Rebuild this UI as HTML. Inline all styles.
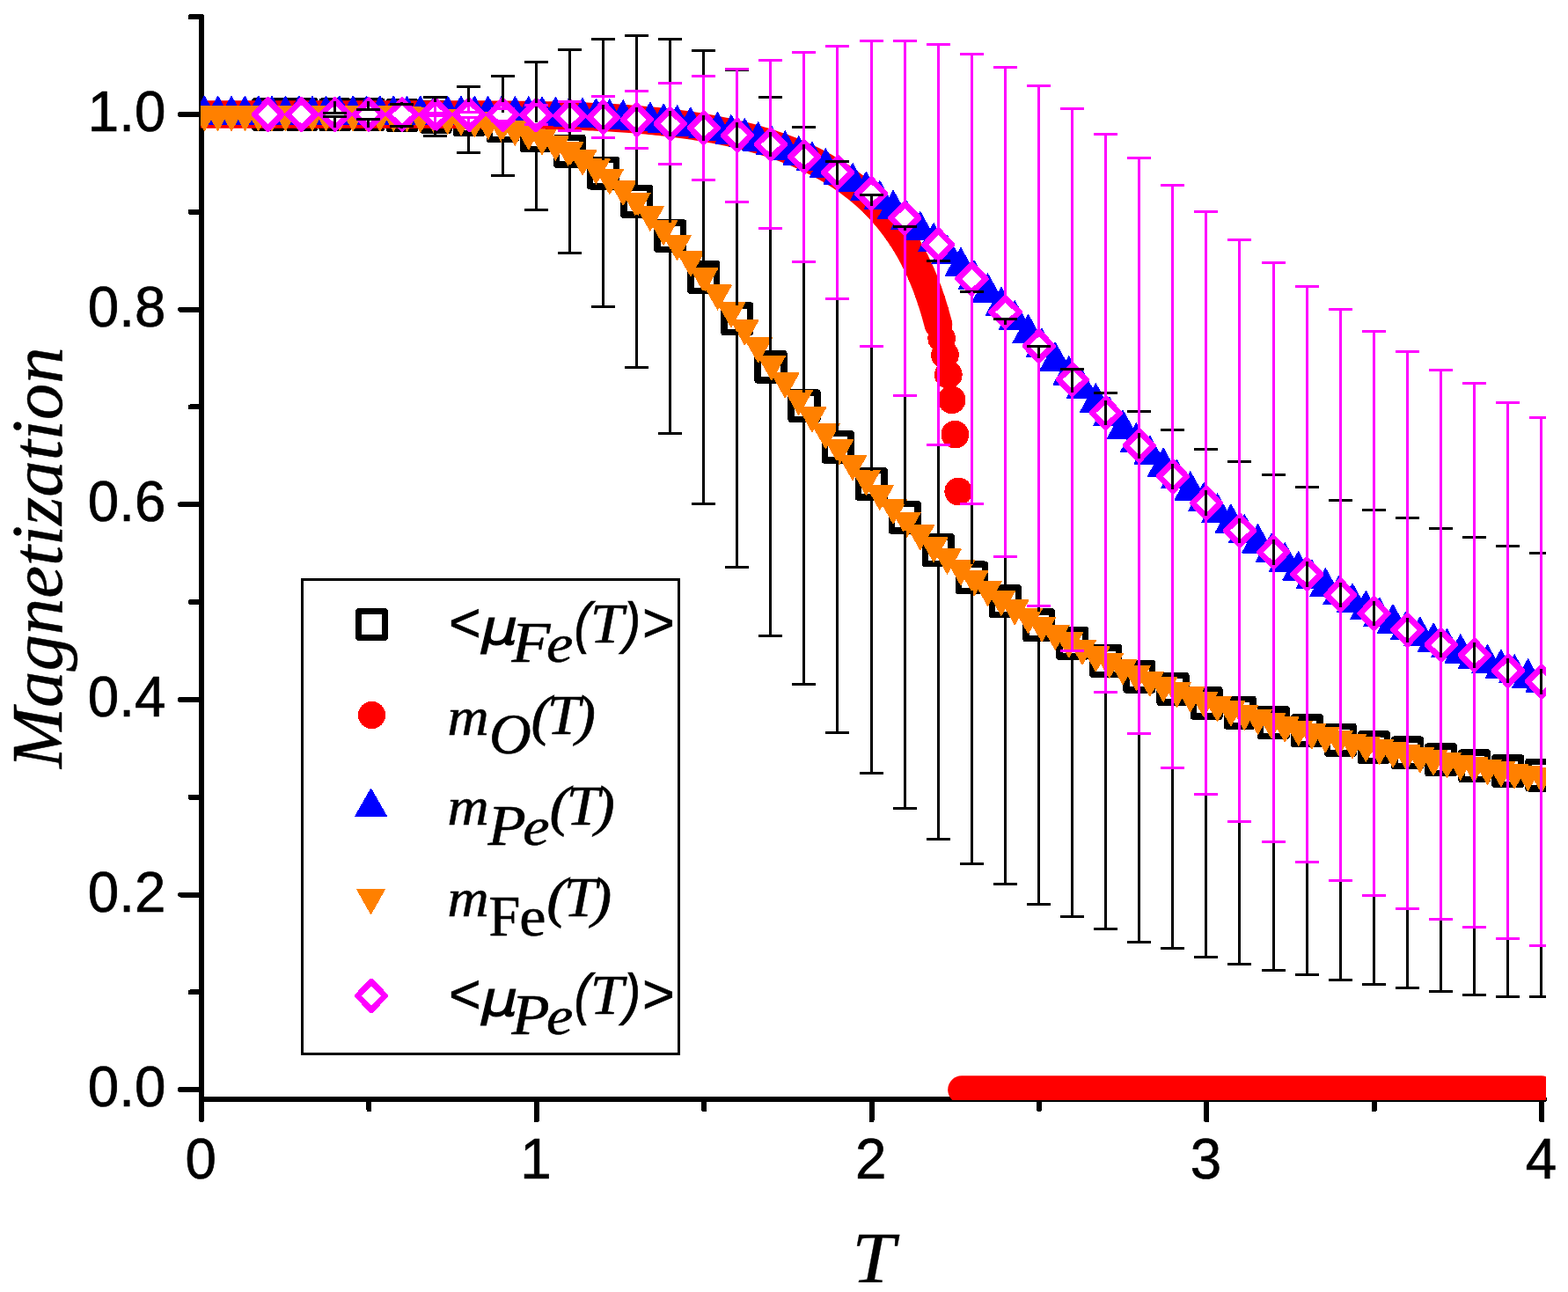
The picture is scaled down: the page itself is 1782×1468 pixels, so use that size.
<!DOCTYPE html>
<html lang="en"><head><meta charset="utf-8"><title>Magnetization vs T</title>
<style>html,body{margin:0;padding:0;background:#fff}body{width:1782px;height:1468px;overflow:hidden}svg{display:block}text{fill:#000}.tk{font-family:"Liberation Sans",Arial,sans-serif;font-size:64.6px}.ti{font-family:"Liberation Serif","Times New Roman",serif;font-style:italic;font-size:82px}.si{font-family:"Liberation Serif",serif;font-style:italic}.sr{font-family:"Liberation Serif",serif}.ss{font-family:"Liberation Sans",sans-serif}.sn{font-family:"Liberation Sans",sans-serif;font-style:italic}.dj{font-family:"DejaVu Sans","Liberation Sans",sans-serif;font-style:oblique}</style></head><body>
<svg width="1782" height="1468" viewBox="0 0 1782 1468" shape-rendering="crispEdges">
<rect width="1782" height="1468" fill="#fff"/>
<defs><clipPath id="cp"><rect x="228" y="0" width="1529" height="1250"/></clipPath></defs>
<g stroke="#000" stroke-width="6" stroke-linecap="round" fill="none">
<path d="M229 20V1272.5"/>
<path d="M229 1249H1755"/>
<path d="M205 1238.2H229M205 1016.56H229M205 794.92H229M205 573.28H229M205 351.64H229M205 130H229M216.5 1127.38H229M216.5 905.74H229M216.5 684.1H229M216.5 462.46H229M216.5 240.82H229M216.5 19.18H229M609.78 1249V1272.5M990.56 1249V1272.5M1371.34 1249V1272.5M1752.12 1249V1272.5M419.39 1249V1260.5M800.17 1249V1260.5M1180.95 1249V1260.5M1561.73 1249V1260.5"/>
</g>
<text class="tk" stroke="#000" stroke-width="0.7" transform="translate(188.3 1257.3) scale(0.985 1.012)" text-anchor="end">0.0</text>
<text class="tk" stroke="#000" stroke-width="0.7" transform="translate(188.3 1035.66) scale(0.985 1.012)" text-anchor="end">0.2</text>
<text class="tk" stroke="#000" stroke-width="0.7" transform="translate(188.3 814.02) scale(0.985 1.012)" text-anchor="end">0.4</text>
<text class="tk" stroke="#000" stroke-width="0.7" transform="translate(188.3 592.38) scale(0.985 1.012)" text-anchor="end">0.6</text>
<text class="tk" stroke="#000" stroke-width="0.7" transform="translate(188.3 370.74) scale(0.985 1.012)" text-anchor="end">0.8</text>
<text class="tk" stroke="#000" stroke-width="0.7" transform="translate(188.3 149.1) scale(0.985 1.012)" text-anchor="end">1.0</text>
<text class="tk" stroke="#000" stroke-width="0.7" transform="translate(228.2 1338.5) scale(0.985 1.012)" text-anchor="middle">0</text>
<text class="tk" stroke="#000" stroke-width="0.7" transform="translate(608.98 1338.5) scale(0.985 1.012)" text-anchor="middle">1</text>
<text class="tk" stroke="#000" stroke-width="0.7" transform="translate(989.76 1338.5) scale(0.985 1.012)" text-anchor="middle">2</text>
<text class="tk" stroke="#000" stroke-width="0.7" transform="translate(1370.54 1338.5) scale(0.985 1.012)" text-anchor="middle">3</text>
<text class="tk" stroke="#000" stroke-width="0.7" transform="translate(1751.32 1338.5) scale(0.985 1.012)" text-anchor="middle">4</text>
<text class="ti" stroke="#000" stroke-width="0.3" transform="matrix(1.071 0 0 1.008 968.26 1457)">T</text>
<text class="ti" stroke="#000" stroke-width="0.5" transform="translate(69.5 873.1) rotate(-90) scale(1.0109 1.012)">Magnetization</text>
<g clip-path="url(#cp)">
<path fill="none" stroke="#000" stroke-width="7.5" stroke-linejoin="round" d="M289.87 114.75h29.6v30.5h-29.6zM327.95 114.75h29.6v30.5h-29.6zM366.04 115.09h29.6v30.5h-29.6zM404.12 115.05h29.6v30.5h-29.6zM442.21 115.66h29.6v30.5h-29.6zM480.3 117.51h29.6v30.5h-29.6zM518.38 120.75h29.6v30.5h-29.6zM556.47 127.84h29.6v30.5h-29.6zM594.55 139.13h29.6v30.5h-29.6zM632.64 156.63h29.6v30.5h-29.6zM670.72 181.25h29.6v30.5h-29.6zM708.81 213.71h29.6v30.5h-29.6zM746.89 252.91h29.6v30.5h-29.6zM784.98 299.8h29.6v30.5h-29.6zM823.06 347.04h29.6v30.5h-29.6zM861.15 401.41h29.6v30.5h-29.6zM899.23 446h29.6v30.5h-29.6zM937.32 492.49h29.6v30.5h-29.6zM975.4 534.55h29.6v30.5h-29.6zM1013.49 572.6h29.6v30.5h-29.6zM1051.57 609.8h29.6v30.5h-29.6zM1089.65 641.24h29.6v30.5h-29.6zM1127.74 668.07h29.6v30.5h-29.6zM1165.83 694.94h29.6v30.5h-29.6zM1203.91 715.54h29.6v30.5h-29.6zM1242 735.85h29.6v30.5h-29.6zM1280.08 753.44h29.6v30.5h-29.6zM1318.17 767.53h29.6v30.5h-29.6zM1356.25 783.5h29.6v30.5h-29.6zM1394.34 794.39h29.6v30.5h-29.6zM1432.42 805.82h29.6v30.5h-29.6zM1470.51 815.05h29.6v30.5h-29.6zM1508.59 825.61h29.6v30.5h-29.6zM1546.68 833.84h29.6v30.5h-29.6zM1584.76 840.2h29.6v30.5h-29.6zM1622.85 848.07h29.6v30.5h-29.6zM1660.93 855.08h29.6v30.5h-29.6zM1699.02 860.94h29.6v30.5h-29.6zM1737.1 865.34h29.6v30.5h-29.6z"/>
<g fill="none" stroke="#f00" stroke-width="31.7" stroke-linecap="round" stroke-linejoin="round" shape-rendering="auto">
<path d="M232.31 130L236.12 130L239.93 130L243.73 130L247.54 130L251.35 130L255.16 130L258.97 130L262.78 130L266.58 130L270.39 130L274.2 130L278.01 130L281.82 130L285.63 130L289.44 130L293.24 130L297.05 130L300.86 130L304.67 130L308.48 130L312.29 130L316.1 130L319.9 130L323.71 130L327.52 130L331.33 130L335.14 130L338.95 130L342.75 130L346.56 130L350.37 130L354.18 130L357.99 130L361.8 130L365.61 130L369.41 130L373.22 130L377.03 130L380.84 130L384.65 130L388.46 130L392.27 130L396.07 130L399.88 130L403.69 130L407.5 130L411.31 130L415.12 130L418.93 130L422.73 130L426.54 130L430.35 130L434.16 130L437.97 130L441.78 130L445.58 130L449.39 130L453.2 130L457.01 130L460.82 130L464.63 130.01L468.44 130.01L472.24 130.01L476.05 130.01L479.86 130.01L483.67 130.01L487.48 130.02L491.29 130.02L495.1 130.02L498.9 130.03L502.71 130.03L506.52 130.04L510.33 130.05L514.14 130.05L517.95 130.06L521.75 130.07L525.56 130.08L529.37 130.09L533.18 130.1L536.99 130.12L540.8 130.13L544.61 130.15L548.41 130.17L552.22 130.19L556.03 130.21L559.84 130.23L563.65 130.26L567.46 130.29L571.27 130.32L575.07 130.35L578.88 130.39L582.69 130.43L586.5 130.47L590.31 130.52L594.12 130.57L597.92 130.62L601.73 130.68L605.54 130.74L609.35 130.8L613.16 130.87L616.97 130.95L620.78 131.02L624.58 131.11L628.39 131.19L632.2 131.29L636.01 131.39L639.82 131.49L643.63 131.6L647.44 131.72L651.24 131.85L655.05 131.98L658.86 132.11L662.67 132.26L666.48 132.41L670.29 132.57L674.09 132.74L677.9 132.92L681.71 133.1L685.52 133.3L689.33 133.5L693.14 133.71L696.95 133.93L700.75 134.17L704.56 134.41L708.37 134.66L712.18 134.93L715.99 135.21L719.8 135.49L723.61 135.79L727.41 136.11L731.22 136.43L735.03 136.77L738.84 137.12L742.65 137.49L746.46 137.87L750.26 138.27L754.07 138.68L757.88 139.1L761.69 139.55L765.5 140L769.31 140.48L773.12 140.97L776.92 141.48L780.73 142.01L784.54 142.56L788.35 143.13L792.16 143.72L795.97 144.33L799.78 144.96L803.58 145.61L807.39 146.29L811.2 146.99L815.01 147.71L818.82 148.46L822.63 149.23L826.43 150.03L830.24 150.85L834.05 151.7L837.86 152.58L841.67 153.49L845.48 154.43L849.29 155.4L853.09 156.41L856.9 157.44L860.71 158.51L864.52 159.62L868.33 160.76L872.14 161.94L875.95 163.16L879.75 164.42L883.56 165.72L887.37 167.06L891.18 168.45L894.99 169.88L898.8 171.37L902.6 172.9L906.41 174.48L910.22 176.12L914.03 177.81L917.84 179.56L921.65 181.37L925.46 183.25L929.26 185.19L933.07 187.19L936.88 189.27L940.69 191.43L944.5 193.66L948.31 195.97L952.12 198.37L955.92 200.86L959.73 203.45L963.54 206.13L967.35 208.93L971.16 211.83L974.97 214.85L978.77 218L982.58 221.28L986.39 224.7L990.2 228.28L994.01 232.01L997.82 235.92L1001.63 240.02L1005.43 244.32L1009.24 248.83L1013.05 253.59L1016.86 258.6L1020.67 263.9L1024.48 269.5L1028.29 275.45L1032.09 281.79L1035.9 288.55L1039.71 295.8L1043.52 303.59L1047.33 312.03L1051.14 321.19L1054.94 331.22L1058.75 342.29L1062.56 354.62L1066.37 368.53"/>
<path d="M1093.03 1238.2H1751.9"/>
</g>
<g fill="#f00">
<circle cx="994.01" cy="232.01" r="15.85"/>
<circle cx="997.82" cy="235.92" r="15.85"/>
<circle cx="1001.63" cy="240.02" r="15.85"/>
<circle cx="1005.43" cy="244.32" r="15.85"/>
<circle cx="1009.24" cy="248.83" r="15.85"/>
<circle cx="1013.05" cy="253.59" r="15.85"/>
<circle cx="1016.86" cy="258.6" r="15.85"/>
<circle cx="1020.67" cy="263.9" r="15.85"/>
<circle cx="1024.48" cy="269.5" r="15.85"/>
<circle cx="1028.29" cy="275.45" r="15.85"/>
<circle cx="1032.09" cy="281.79" r="15.85"/>
<circle cx="1035.9" cy="288.55" r="15.85"/>
<circle cx="1039.71" cy="295.8" r="15.85"/>
<circle cx="1043.52" cy="303.59" r="15.85"/>
<circle cx="1047.33" cy="312.03" r="15.85"/>
<circle cx="1051.14" cy="321.19" r="15.85"/>
<circle cx="1054.94" cy="331.22" r="15.85"/>
<circle cx="1058.75" cy="342.29" r="15.85"/>
<circle cx="1062.56" cy="354.62" r="15.85"/>
<circle cx="1066.37" cy="368.53" r="15.85"/>
<circle cx="1070.18" cy="384.49" r="15.85"/>
<circle cx="1073.99" cy="403.17" r="15.85"/>
<circle cx="1077.8" cy="425.75" r="15.85"/>
<circle cx="1081.6" cy="454.35" r="15.85"/>
<circle cx="1085.41" cy="493.65" r="15.85"/>
<circle cx="1089.22" cy="558.46" r="15.85"/>
</g>
<path fill="#00f" stroke="#00f" stroke-width="1.2" stroke-linejoin="round" d="M232.31 109.23L250 141.35L214.62 141.35zM247.66 109.23L265.35 141.35L229.97 141.35zM263.01 109.23L280.7 141.35L245.32 141.35zM278.36 109.23L296.05 141.35L260.67 141.35zM293.71 109.23L311.4 141.35L276.02 141.35zM309.06 109.23L326.75 141.35L291.37 141.35zM324.4 109.23L342.09 141.35L306.71 141.35zM339.75 109.23L357.44 141.35L322.06 141.35zM355.1 109.23L372.79 141.35L337.41 141.35zM370.45 109.23L388.14 141.35L352.76 141.35zM385.8 109.23L403.49 141.35L368.11 141.35zM401.15 109.23L418.84 141.35L383.46 141.35zM416.5 109.23L434.19 141.35L398.81 141.35zM431.85 109.23L449.54 141.35L414.16 141.35zM447.2 109.23L464.89 141.35L429.51 141.35zM462.55 109.23L480.24 141.35L444.86 141.35zM477.9 109.24L495.59 141.36L460.21 141.36zM493.25 109.25L510.94 141.37L475.56 141.37zM508.6 109.27L526.29 141.39L490.91 141.39zM523.95 109.31L541.64 141.43L506.26 141.43zM539.3 109.36L556.99 141.48L521.61 141.48zM554.65 109.43L572.34 141.55L536.96 141.55zM570 109.54L587.69 141.66L552.31 141.66zM585.34 109.69L603.03 141.81L567.65 141.81zM600.69 109.89L618.38 142.01L583 142.01zM616.04 110.16L633.73 142.28L598.35 142.28zM631.39 110.5L649.08 142.62L613.7 142.62zM646.74 110.94L664.43 143.06L629.05 143.06zM662.09 111.48L679.78 143.6L644.4 143.6zM677.44 112.14L695.13 144.26L659.75 144.26zM692.79 112.95L710.48 145.07L675.1 145.07zM708.14 113.92L725.83 146.04L690.45 146.04zM723.49 115.08L741.18 147.2L705.8 147.2zM738.84 116.45L756.53 148.57L721.15 148.57zM754.19 118.06L771.88 150.18L736.5 150.18zM769.54 119.94L787.23 152.06L751.85 152.06zM784.89 122.12L802.58 154.24L767.2 154.24zM800.24 124.63L817.93 156.75L782.55 156.75zM815.59 127.52L833.28 159.64L797.9 159.64zM830.94 130.82L848.63 162.94L813.25 162.94zM846.28 134.57L863.97 166.69L828.59 166.69zM861.63 138.82L879.32 170.94L843.94 170.94zM876.98 143.61L894.67 175.73L859.29 175.73zM892.33 148.97L910.02 181.09L874.64 181.09zM907.68 154.96L925.37 187.08L889.99 187.08zM923.03 161.6L940.72 193.72L905.34 193.72zM938.38 168.93L956.07 201.05L920.69 201.05zM953.73 176.98L971.42 209.1L936.04 209.1zM969.08 185.76L986.77 217.88L951.39 217.88zM984.43 195.28L1002.12 227.4L966.74 227.4zM999.78 205.55L1017.47 237.67L982.09 237.67zM1015.13 216.55L1032.82 248.67L997.44 248.67zM1030.48 228.27L1048.17 260.39L1012.79 260.39zM1045.83 240.67L1063.52 272.79L1028.14 272.79zM1061.18 253.7L1078.87 285.82L1043.49 285.82zM1076.53 267.32L1094.22 299.44L1058.84 299.44zM1091.88 281.47L1109.57 313.59L1074.19 313.59zM1107.22 296.08L1124.91 328.2L1089.53 328.2zM1122.57 311.08L1140.26 343.2L1104.88 343.2zM1137.92 326.39L1155.61 358.51L1120.23 358.51zM1153.27 341.93L1170.96 374.05L1135.58 374.05zM1168.62 357.63L1186.31 389.75L1150.93 389.75zM1183.97 373.42L1201.66 405.54L1166.28 405.54zM1199.32 389.22L1217.01 421.34L1181.63 421.34zM1214.67 404.96L1232.36 437.08L1196.98 437.08zM1230.02 420.59L1247.71 452.71L1212.33 452.71zM1245.37 436.04L1263.06 468.16L1227.68 468.16zM1260.72 451.26L1278.41 483.38L1243.03 483.38zM1276.07 466.22L1293.76 498.34L1258.38 498.34zM1291.42 480.88L1309.11 513L1273.73 513zM1306.77 495.2L1324.46 527.32L1289.08 527.32zM1322.12 509.16L1339.81 541.28L1304.43 541.28zM1337.47 522.74L1355.16 554.86L1319.78 554.86zM1352.82 535.93L1370.51 568.05L1335.13 568.05zM1368.16 548.72L1385.85 580.84L1350.47 580.84zM1383.51 561.1L1401.2 593.22L1365.82 593.22zM1398.86 573.07L1416.55 605.19L1381.17 605.19zM1414.21 584.63L1431.9 616.75L1396.52 616.75zM1429.56 595.78L1447.25 627.9L1411.87 627.9zM1444.91 606.54L1462.6 638.66L1427.22 638.66zM1460.26 616.9L1477.95 649.02L1442.57 649.02zM1475.61 626.88L1493.3 659L1457.92 659zM1490.96 636.49L1508.65 668.61L1473.27 668.61zM1506.31 645.73L1524 677.85L1488.62 677.85zM1521.66 654.62L1539.35 686.74L1503.97 686.74zM1537.01 663.18L1554.7 695.3L1519.32 695.3zM1552.36 671.41L1570.05 703.53L1534.67 703.53zM1567.71 679.32L1585.4 711.44L1550.02 711.44zM1583.06 686.93L1600.75 719.05L1565.37 719.05zM1598.41 694.25L1616.1 726.37L1580.72 726.37zM1613.76 701.3L1631.45 733.42L1596.07 733.42zM1629.1 708.08L1646.79 740.2L1611.41 740.2zM1644.45 714.6L1662.14 746.72L1626.76 746.72zM1659.8 720.88L1677.49 753L1642.11 753zM1675.15 726.92L1692.84 759.04L1657.46 759.04zM1690.5 732.75L1708.19 764.87L1672.81 764.87zM1705.85 738.36L1723.54 770.48L1688.16 770.48zM1721.2 743.76L1738.89 775.88L1703.51 775.88zM1736.55 748.98L1754.24 781.1L1718.86 781.1zM1751.9 754L1769.59 786.12L1734.21 786.12z"/>
<path fill="#ff8000" stroke="#ff8000" stroke-width="1.2" stroke-linejoin="round" d="M232.31 148.42L247.95 120.6L216.67 120.6zM247.66 148.42L263.3 120.6L232.02 120.6zM263.01 148.42L278.65 120.6L247.37 120.6zM278.36 148.42L294 120.6L262.72 120.6zM293.71 148.42L309.35 120.6L278.07 120.6zM309.06 148.42L324.7 120.6L293.42 120.6zM324.4 148.42L340.04 120.6L308.76 120.6zM339.75 148.42L355.39 120.6L324.11 120.6zM355.1 148.42L370.74 120.6L339.46 120.6zM370.45 148.43L386.09 120.61L354.81 120.61zM385.8 148.46L401.44 120.64L370.16 120.64zM401.15 148.51L416.79 120.69L385.51 120.69zM416.5 148.61L432.14 120.79L400.86 120.79zM431.85 148.78L447.49 120.96L416.21 120.96zM447.2 149.05L462.84 121.23L431.56 121.23zM462.55 149.47L478.19 121.65L446.91 121.65zM477.9 150.07L493.54 122.25L462.26 122.25zM493.25 150.92L508.89 123.1L477.61 123.1zM508.6 152.07L524.24 124.25L492.96 124.25zM523.95 153.59L539.59 125.77L508.31 125.77zM539.3 155.56L554.94 127.74L523.66 127.74zM554.65 158.07L570.29 130.25L539.01 130.25zM570 161.21L585.64 133.39L554.36 133.39zM585.34 165.08L600.98 137.26L569.7 137.26zM600.69 169.77L616.33 141.95L585.05 141.95zM616.04 175.4L631.68 147.58L600.4 147.58zM631.39 182.04L647.03 154.22L615.75 154.22zM646.74 189.8L662.38 161.98L631.1 161.98zM662.09 198.73L677.73 170.91L646.45 170.91zM677.44 208.91L693.08 181.09L661.8 181.09zM692.79 220.34L708.43 192.52L677.15 192.52zM708.14 233.04L723.78 205.22L692.5 205.22zM723.49 246.99L739.13 219.17L707.85 219.17zM738.84 262.12L754.48 234.3L723.2 234.3zM754.19 278.35L769.83 250.53L738.55 250.53zM769.54 295.59L785.18 267.77L753.9 267.77zM784.89 313.68L800.53 285.86L769.25 285.86zM800.24 332.51L815.88 304.69L784.6 304.69zM815.59 351.89L831.23 324.07L799.95 324.07zM830.94 371.69L846.58 343.87L815.3 343.87zM846.28 391.73L861.92 363.91L830.64 363.91zM861.63 411.87L877.27 384.05L845.99 384.05zM876.98 431.97L892.62 404.15L861.34 404.15zM892.33 451.9L907.97 424.08L876.69 424.08zM907.68 471.55L923.32 443.73L892.04 443.73zM923.03 490.81L938.67 462.99L907.39 462.99zM938.38 509.61L954.02 481.79L922.74 481.79zM953.73 527.89L969.37 500.07L938.09 500.07zM969.08 545.6L984.72 517.78L953.44 517.78zM984.43 562.71L1000.07 534.89L968.79 534.89zM999.78 579.18L1015.42 551.36L984.14 551.36zM1015.13 595L1030.77 567.18L999.49 567.18zM1030.48 610.18L1046.12 582.36L1014.84 582.36zM1045.83 624.71L1061.47 596.89L1030.19 596.89zM1061.18 638.61L1076.82 610.79L1045.54 610.79zM1076.53 651.89L1092.17 624.07L1060.89 624.07zM1091.88 664.56L1107.52 636.74L1076.24 636.74zM1107.22 676.65L1122.86 648.83L1091.58 648.83zM1122.57 688.17L1138.21 660.35L1106.93 660.35zM1137.92 699.15L1153.56 671.33L1122.28 671.33zM1153.27 709.62L1168.91 681.8L1137.63 681.8zM1168.62 719.59L1184.26 691.77L1152.98 691.77zM1183.97 729.1L1199.61 701.28L1168.33 701.28zM1199.32 738.16L1214.96 710.34L1183.68 710.34zM1214.67 746.8L1230.31 718.98L1199.03 718.98zM1230.02 755.03L1245.66 727.21L1214.38 727.21zM1245.37 762.89L1261.01 735.07L1229.73 735.07zM1260.72 770.39L1276.36 742.57L1245.08 742.57zM1276.07 777.55L1291.71 749.73L1260.43 749.73zM1291.42 784.39L1307.06 756.57L1275.78 756.57zM1306.77 790.93L1322.41 763.11L1291.13 763.11zM1322.12 797.18L1337.76 769.36L1306.48 769.36zM1337.47 803.16L1353.11 775.34L1321.83 775.34zM1352.82 808.88L1368.46 781.06L1337.18 781.06zM1368.16 814.36L1383.8 786.54L1352.52 786.54zM1383.51 819.61L1399.15 791.79L1367.87 791.79zM1398.86 824.65L1414.5 796.83L1383.22 796.83zM1414.21 829.48L1429.85 801.66L1398.57 801.66zM1429.56 834.11L1445.2 806.29L1413.92 806.29zM1444.91 838.56L1460.55 810.74L1429.27 810.74zM1460.26 842.84L1475.9 815.02L1444.62 815.02zM1475.61 846.96L1491.25 819.14L1459.97 819.14zM1490.96 850.91L1506.6 823.09L1475.32 823.09zM1506.31 854.72L1521.95 826.9L1490.67 826.9zM1521.66 858.39L1537.3 830.57L1506.02 830.57zM1537.01 861.92L1552.65 834.1L1521.37 834.1zM1552.36 865.33L1568 837.51L1536.72 837.51zM1567.71 868.62L1583.35 840.8L1552.07 840.8zM1583.06 871.79L1598.7 843.97L1567.42 843.97zM1598.41 874.85L1614.05 847.03L1582.77 847.03zM1613.76 877.81L1629.4 849.99L1598.12 849.99zM1629.1 880.66L1644.74 852.84L1613.46 852.84zM1644.45 883.43L1660.09 855.61L1628.81 855.61zM1659.8 886.1L1675.44 858.28L1644.16 858.28zM1675.15 888.69L1690.79 860.87L1659.51 860.87zM1690.5 891.19L1706.14 863.37L1674.86 863.37zM1705.85 893.62L1721.49 865.8L1690.21 865.8zM1721.2 895.97L1736.84 868.15L1705.56 868.15zM1736.55 898.24L1752.19 870.42L1720.91 870.42zM1751.9 900.45L1767.54 872.63L1736.26 872.63z"/>
<path fill="#f0f" d="M303.47 110.35L305.87 110.35L323.77 128.8L323.77 131.2L305.87 149.65L303.47 149.65L285.57 131.2L285.57 128.8zM341.56 110.35L343.95 110.35L361.86 128.8L361.86 131.2L343.95 149.65L341.56 149.65L323.65 131.2L323.65 128.8zM379.64 110.35L382.04 110.35L399.94 128.8L399.94 131.2L382.04 149.65L379.64 149.65L361.74 131.2L361.74 128.8zM417.73 110.35L420.12 110.35L438.03 128.8L438.03 131.2L420.12 149.65L417.73 149.65L399.82 131.2L399.82 128.8zM455.81 110.35L458.21 110.35L476.11 128.8L476.11 131.2L458.21 149.65L455.81 149.65L437.91 131.2L437.91 128.8zM493.9 110.36L496.3 110.36L514.2 128.81L514.2 131.21L496.3 149.66L493.9 149.66L476 131.21L476 128.81zM531.98 110.4L534.38 110.4L552.28 128.85L552.28 131.25L534.38 149.7L531.98 149.7L514.08 131.25L514.08 128.85zM570.07 110.69L572.47 110.69L590.37 129.14L590.37 131.54L572.47 149.99L570.07 149.99L552.17 131.54L552.17 129.14zM608.15 111.15L610.55 111.15L628.45 129.6L628.45 132L610.55 150.45L608.15 150.45L590.25 132L590.25 129.6zM646.24 112.04L648.64 112.04L666.54 130.49L666.54 132.89L648.64 151.34L646.24 151.34L628.34 132.89L628.34 130.49zM684.32 113.56L686.72 113.56L704.62 132.01L704.62 134.41L686.72 152.86L684.32 152.86L666.42 134.41L666.42 132.01zM722.4 116.18L724.81 116.18L742.71 134.63L742.71 137.03L724.81 155.48L722.4 155.48L704.5 137.03L704.5 134.63zM760.49 120.97L762.89 120.97L780.79 139.42L780.79 141.82L762.89 160.27L760.49 160.27L742.59 141.82L742.59 139.42zM798.58 125.69L800.98 125.69L818.88 144.14L818.88 146.54L800.98 164.99L798.58 164.99L780.68 146.54L780.68 144.14zM836.66 134.01L839.06 134.01L856.96 152.46L856.96 154.86L839.06 173.31L836.66 173.31L818.76 154.86L818.76 152.46zM874.75 144.44L877.15 144.44L895.05 162.89L895.05 165.29L877.15 183.74L874.75 183.74L856.85 165.29L856.85 162.89zM912.83 158.5L915.23 158.5L933.13 176.95L933.13 179.35L915.23 197.8L912.83 197.8L894.93 179.35L894.93 176.95zM950.91 176.15L953.32 176.15L971.22 194.6L971.22 197L953.32 215.45L950.91 215.45L933.01 197L933.01 194.6zM989 200.29L991.4 200.29L1009.3 218.74L1009.3 221.14L991.4 239.59L989 239.59L971.1 221.14L971.1 218.74zM1027.09 227.96L1029.49 227.96L1047.38 246.41L1047.38 248.81L1029.49 267.26L1027.09 267.26L1009.19 248.81L1009.19 246.41zM1065.17 258.42L1067.57 258.42L1085.47 276.87L1085.47 279.27L1067.57 297.72L1065.17 297.72L1047.27 279.27L1047.27 276.87zM1103.25 297.11L1105.65 297.11L1123.55 315.56L1123.55 317.96L1105.65 336.41L1103.25 336.41L1085.36 317.96L1085.36 315.56zM1141.34 334.86L1143.74 334.86L1161.64 353.31L1161.64 355.71L1143.74 374.16L1141.34 374.16L1123.44 355.71L1123.44 353.31zM1179.42 373.51L1181.83 373.51L1199.72 391.96L1199.72 394.36L1181.83 412.81L1179.42 412.81L1161.53 394.36L1161.53 391.96zM1217.51 411.68L1219.91 411.68L1237.81 430.13L1237.81 432.53L1219.91 450.98L1217.51 450.98L1199.61 432.53L1199.61 430.13zM1255.6 449.64L1258 449.64L1275.89 468.09L1275.89 470.49L1258 488.94L1255.6 488.94L1237.7 470.49L1237.7 468.09zM1293.68 486.77L1296.08 486.77L1313.98 505.22L1313.98 507.62L1296.08 526.07L1293.68 526.07L1275.78 507.62L1275.78 505.22zM1331.77 521.71L1334.17 521.71L1352.07 540.16L1352.07 542.56L1334.17 561.01L1331.77 561.01L1313.87 542.56L1313.87 540.16zM1369.85 551.95L1372.25 551.95L1390.15 570.4L1390.15 572.8L1372.25 591.25L1369.85 591.25L1351.95 572.8L1351.95 570.4zM1407.93 583.27L1410.34 583.27L1428.23 601.72L1428.23 604.12L1410.34 622.57L1407.93 622.57L1390.04 604.12L1390.04 601.72zM1446.02 607.73L1448.42 607.73L1466.32 626.18L1466.32 628.58L1448.42 647.03L1446.02 647.03L1428.12 628.58L1428.12 626.18zM1484.11 632.81L1486.51 632.81L1504.4 651.26L1504.4 653.66L1486.51 672.11L1484.11 672.11L1466.21 653.66L1466.21 651.26zM1522.19 656.41L1524.59 656.41L1542.49 674.86L1542.49 677.26L1524.59 695.71L1522.19 695.71L1504.29 677.26L1504.29 674.86zM1560.28 677.38L1562.68 677.38L1580.58 695.83L1580.58 698.23L1562.68 716.68L1560.28 716.68L1542.38 698.23L1542.38 695.83zM1598.36 696.11L1600.76 696.11L1618.66 714.56L1618.66 716.96L1600.76 735.41L1598.36 735.41L1580.46 716.96L1580.46 714.56zM1636.45 713.03L1638.85 713.03L1656.75 731.48L1656.75 733.88L1638.85 752.33L1636.45 752.33L1618.55 733.88L1618.55 731.48zM1674.53 724.75L1676.93 724.75L1694.83 743.2L1694.83 745.6L1676.93 764.05L1674.53 764.05L1656.63 745.6L1656.63 743.2zM1712.62 742.45L1715.02 742.45L1732.91 760.9L1732.91 763.3L1715.02 781.75L1712.62 781.75L1694.72 763.3L1694.72 760.9zM1750.7 754.79L1753.1 754.79L1771 773.24L1771 775.64L1753.1 794.09L1750.7 794.09L1732.8 775.64L1732.8 773.24z"/>
<path fill="#fff" d="M304.67 119.3L315.77 130L304.67 140.7L293.57 130zM342.75 119.3L353.86 130L342.75 140.7L331.65 130zM380.84 119.3L391.94 130L380.84 140.7L369.74 130zM418.93 119.3L430.03 130L418.93 140.7L407.82 130zM457.01 119.3L468.11 130L457.01 140.7L445.91 130zM495.1 119.31L506.2 130.01L495.1 140.71L484 130.01zM533.18 119.35L544.28 130.05L533.18 140.75L522.08 130.05zM571.27 119.64L582.37 130.34L571.27 141.04L560.17 130.34zM609.35 120.1L620.45 130.8L609.35 141.5L598.25 130.8zM647.44 120.99L658.54 131.69L647.44 142.39L636.34 131.69zM685.52 122.51L696.62 133.21L685.52 143.91L674.42 133.21zM723.61 125.13L734.71 135.83L723.61 146.53L712.5 135.83zM761.69 129.92L772.79 140.62L761.69 151.32L750.59 140.62zM799.78 134.64L810.88 145.34L799.78 156.04L788.68 145.34zM837.86 142.96L848.96 153.66L837.86 164.36L826.76 153.66zM875.95 153.39L887.05 164.09L875.95 174.79L864.85 164.09zM914.03 167.45L925.13 178.15L914.03 188.85L902.93 178.15zM952.12 185.1L963.22 195.8L952.12 206.5L941.01 195.8zM990.2 209.24L1001.3 219.94L990.2 230.64L979.1 219.94zM1028.29 236.91L1039.38 247.61L1028.29 258.31L1017.19 247.61zM1066.37 267.37L1077.47 278.07L1066.37 288.77L1055.27 278.07zM1104.45 306.06L1115.55 316.76L1104.45 327.46L1093.36 316.76zM1142.54 343.81L1153.64 354.51L1142.54 365.21L1131.44 354.51zM1180.62 382.46L1191.72 393.16L1180.62 403.86L1169.53 393.16zM1218.71 420.63L1229.81 431.33L1218.71 442.03L1207.61 431.33zM1256.8 458.59L1267.89 469.29L1256.8 479.99L1245.7 469.29zM1294.88 495.72L1305.98 506.42L1294.88 517.12L1283.78 506.42zM1332.97 530.66L1344.07 541.36L1332.97 552.06L1321.87 541.36zM1371.05 560.9L1382.15 571.6L1371.05 582.3L1359.95 571.6zM1409.13 592.22L1420.23 602.92L1409.13 613.62L1398.04 602.92zM1447.22 616.68L1458.32 627.38L1447.22 638.08L1436.12 627.38zM1485.31 641.76L1496.4 652.46L1485.31 663.16L1474.21 652.46zM1523.39 665.36L1534.49 676.06L1523.39 686.76L1512.29 676.06zM1561.48 686.33L1572.58 697.03L1561.48 707.73L1550.38 697.03zM1599.56 705.06L1610.66 715.76L1599.56 726.46L1588.46 715.76zM1637.65 721.98L1648.75 732.68L1637.65 743.38L1626.55 732.68zM1675.73 733.7L1686.83 744.4L1675.73 755.1L1664.63 744.4zM1713.82 751.4L1724.91 762.1L1713.82 772.8L1702.72 762.1zM1751.9 763.74L1763 774.44L1751.9 785.14L1740.8 774.44z"/>
<path fill="none" stroke="#000" stroke-width="3" d="M380.64 115.34V128.4M380.64 145.34V132.28M367.14 128.4h27M367.14 132.28h27M418.73 115.3V124.98M418.73 145.3V135.63M405.23 124.98h27M405.23 135.63h27M456.81 115.91V118.15M456.81 145.91V143.68M443.31 118.15h27M443.31 143.68h27M494.9 117.76V110.82M494.9 147.76V154.7M481.4 110.82h27M481.4 154.7h27M532.98 121V98.33M532.98 151V173.67M519.48 98.33h27M519.48 173.67h27M571.07 128.09V86.24M571.07 158.09V199.95M557.57 86.24h27M557.57 199.95h27M609.15 139.38V70.76M609.15 169.38V238M595.65 70.76h27M595.65 238h27M647.24 156.88V56.58M647.24 186.88V287.17M633.74 56.58h27M633.74 287.17h27M685.32 181.5V44.46M685.32 211.5V348.54M671.82 44.46h27M671.82 348.54h27M723.4 213.96V40.82M723.4 243.96V417.11M709.9 40.82h27M709.9 417.11h27M761.49 253.16V44.05M761.49 283.16V492.27M747.99 44.05h27M747.99 492.27h27M799.58 300.05V57.6M799.58 330.05V572.5M786.08 57.6h27M786.08 572.5h27M837.66 347.29V79.79M837.66 377.29V644.8M824.16 79.79h27M824.16 644.8h27M875.75 401.66V110.81M875.75 431.66V722.5M862.25 110.81h27M862.25 722.5h27M913.83 446.25V144.8M913.83 476.25V777.7M900.33 144.8h27M900.33 777.7h27M951.91 492.74V183.35M951.91 522.74V832.13M938.41 183.35h27M938.41 832.13h27M990 534.8V221.38M990 564.8V878.22M976.5 221.38h27M976.5 878.22h27M1028.09 572.85V257.3M1028.09 602.85V918.4M1014.59 257.3h27M1014.59 918.4h27M1066.17 610.05V296.53M1066.17 640.05V953.57M1052.67 296.53h27M1052.67 953.57h27M1104.25 641.49V331.86M1104.25 671.49V981.13M1090.75 331.86h27M1090.75 981.13h27M1142.34 668.32V362.62M1142.34 698.32V1004.01M1128.84 362.62h27M1128.84 1004.01h27M1180.42 695.19V393.28M1180.42 725.19V1027.1M1166.92 393.28h27M1166.92 1027.1h27M1218.51 715.79V419.81M1218.51 745.79V1041.77M1205.01 419.81h27M1205.01 1041.77h27M1256.6 736.1V446.6M1256.6 766.1V1055.61M1243.1 446.6h27M1243.1 1055.61h27M1294.68 753.69V467.17M1294.68 783.69V1070.2M1281.18 467.17h27M1281.18 1070.2h27M1332.77 767.78V488.18M1332.77 797.78V1077.38M1319.27 488.18h27M1319.27 1077.38h27M1370.85 783.75V510.4M1370.85 813.75V1087.1M1357.35 510.4h27M1357.35 1087.1h27M1408.93 794.64V524.05M1408.93 824.64V1095.23M1395.43 524.05h27M1395.43 1095.23h27M1447.02 806.07V539.93M1447.02 836.07V1102.22M1433.52 539.93h27M1433.52 1102.22h27M1485.11 815.3V553.31M1485.11 845.3V1107.29M1471.61 553.31h27M1471.61 1107.29h27M1523.19 825.86V568.26M1523.19 855.86V1113.46M1509.69 568.26h27M1509.69 1113.46h27M1561.28 834.09V579.44M1561.28 864.09V1118.74M1547.78 579.44h27M1547.78 1118.74h27M1599.36 840.45V588M1599.36 870.45V1122.91M1585.86 588h27M1585.86 1122.91h27M1637.45 848.32V600.53M1637.45 878.32V1126.11M1623.95 600.53h27M1623.95 1126.11h27M1675.53 855.33V610.58M1675.53 885.33V1130.08M1662.03 610.58h27M1662.03 1130.08h27M1713.62 861.19V620.24M1713.62 891.19V1132.14M1700.12 620.24h27M1700.12 1132.14h27M1751.7 865.59V628.39M1751.7 895.59V1132.8M1738.2 628.39h27M1738.2 1132.8h27"/>
<path fill="none" stroke="#f0f" stroke-width="3" d="M494.9 115.81V128.89M494.9 144.21V131.14M481.4 128.89h27M481.4 131.14h27M532.98 115.85V127.08M532.98 144.25V133.02M519.48 127.08h27M519.48 133.02h27M571.07 116.14V123.59M571.07 144.54V137.08M557.57 123.59h27M557.57 137.08h27M609.15 116.6V119.78M609.15 145V141.83M595.65 119.78h27M595.65 141.83h27M647.24 117.49V115.09M647.24 145.89V148.29M633.74 115.09h27M633.74 148.29h27M685.32 119.01V109.87M685.32 147.41V156.55M671.82 109.87h27M671.82 156.55h27M723.4 121.63V103.32M723.4 150.03V168.35M709.9 103.32h27M709.9 168.35h27M761.49 126.42V94.85M761.49 154.82V186.4M747.99 94.85h27M747.99 186.4h27M799.58 131.14V86.23M799.58 159.54V204.45M786.08 86.23h27M786.08 204.45h27M837.66 139.46V78.25M837.66 167.86V229.08M824.16 78.25h27M824.16 229.08h27M875.75 149.89V68.7M875.75 178.29V259.49M862.25 68.7h27M862.25 259.49h27M913.83 163.95V59.19M913.83 192.35V297.1M900.33 59.19h27M900.33 297.1h27M951.91 181.6V52.09M951.91 210V339.5M938.41 52.09h27M938.41 339.5h27M990 205.74V46.4M990 234.14V393.48M976.5 46.4h27M976.5 393.48h27M1028.09 233.41V46.14M1028.09 261.81V449.09M1014.59 46.14h27M1014.59 449.09h27M1066.17 263.87V50.95M1066.17 292.27V505.2M1052.67 50.95h27M1052.67 505.2h27M1104.25 302.56V61.02M1104.25 330.96V572.5M1090.75 61.02h27M1090.75 572.5h27M1142.34 340.31V76.93M1142.34 368.71V632.1M1128.84 76.93h27M1128.84 632.1h27M1180.42 378.96V97.83M1180.42 407.36V688.5M1166.92 97.83h27M1166.92 688.5h27M1218.51 417.13V123.15M1218.51 445.53V739.5M1205.01 123.15h27M1205.01 739.5h27M1256.6 455.09V152.4M1256.6 483.49V786.18M1243.1 152.4h27M1243.1 786.18h27M1294.68 492.22V179.33M1294.68 520.62V833.5M1281.18 179.33h27M1281.18 833.5h27M1332.77 527.16V210.53M1332.77 555.56V872.2M1319.27 210.53h27M1319.27 872.2h27M1370.85 557.4V240.47M1370.85 585.8V902.73M1357.35 240.47h27M1357.35 902.73h27M1408.93 588.72V272.4M1408.93 617.12V933.43M1395.43 272.4h27M1395.43 933.43h27M1447.02 613.18V298.67M1447.02 641.58V956.1M1433.52 298.67h27M1433.52 956.1h27M1485.11 638.26V325.62M1485.11 666.66V979.3M1471.61 325.62h27M1471.61 979.3h27M1523.19 661.86V351.56M1523.19 690.26V1000.56M1509.69 351.56h27M1509.69 1000.56h27M1561.28 682.83V376.21M1561.28 711.23V1017.85M1547.78 376.21h27M1547.78 1017.85h27M1599.36 701.56V399.13M1599.36 729.96V1032.39M1585.86 399.13h27M1585.86 1032.39h27M1637.45 718.48V420.57M1637.45 746.88V1044.78M1623.95 420.57h27M1623.95 1044.78h27M1675.53 730.2V435.4M1675.53 758.6V1053.4M1662.03 435.4h27M1662.03 1053.4h27M1713.62 747.9V457.85M1713.62 776.3V1066.36M1700.12 457.85h27M1700.12 1066.36h27M1751.7 760.24V474.23M1751.7 788.64V1074.65M1738.2 474.23h27M1738.2 1074.65h27"/>
</g>
<rect x="343.6" y="658.5" width="428.1" height="538.5" fill="none" stroke="#000" stroke-width="3"/>
<rect x="407.7" y="694.7" width="29.6" height="29.6" fill="none" stroke="#000" stroke-width="7.5" stroke-linejoin="round"/>
<circle cx="422.5" cy="812.5" r="15.6" fill="#f00"/>
<path fill="#00f" stroke="#00f" stroke-width="1.2" stroke-linejoin="round" d="M421.55 896.28L439.24 927.2L403.86 927.2z"/>
<path fill="#ff8000" stroke="#ff8000" stroke-width="1.2" stroke-linejoin="round" d="M421.5 1038.52L437.14 1010.7L405.86 1010.7z"/>
<path fill="#f0f" d="M420.8 1111.8L423.2 1111.8L441.1 1130.25L441.1 1132.65L423.2 1151.1L420.8 1151.1L402.9 1132.65L402.9 1130.25z"/><path fill="#fff" d="M422 1120.75L433.1 1131.45L422 1142.15L410.9 1131.45z"/>
<g shape-rendering="auto">
<text><tspan class="ss" font-size="62.62" x="510.06" y="728.51" textLength="36.76" lengthAdjust="spacingAndGlyphs" stroke="#000" stroke-width="0.6">&lt;</tspan><tspan class="dj" font-size="55.9" x="547.16" y="731.97" textLength="41.44" lengthAdjust="spacingAndGlyphs" stroke="#000" stroke-width="1">μ</tspan><tspan class="si" font-size="64.91" x="581.49" y="751.7" textLength="43.82" lengthAdjust="spacingAndGlyphs" stroke="#000" stroke-width="0.6">F</tspan><tspan class="si" font-size="60.92" x="621" y="751.91" textLength="30.29" lengthAdjust="spacingAndGlyphs" stroke="#000" stroke-width="0.6">e</tspan><tspan class="sn" font-size="65.09" x="652.47" y="730.32" textLength="19.41" lengthAdjust="spacingAndGlyphs" stroke="#000" stroke-width="0.6">(</tspan><tspan class="si" font-size="63.29" x="670.8" y="729.7" textLength="37.93" lengthAdjust="spacingAndGlyphs" stroke="#000" stroke-width="0.6">T</tspan><tspan class="sn" font-size="65.09" x="708.82" y="730.32" textLength="19.44" lengthAdjust="spacingAndGlyphs" stroke="#000" stroke-width="0.6">)</tspan><tspan class="ss" font-size="62.62" x="730.05" y="728.51" textLength="36.85" lengthAdjust="spacingAndGlyphs" stroke="#000" stroke-width="0.6">&gt;</tspan></text>
<text><tspan class="si" font-size="60.7" x="508.6" y="834.7" textLength="47.14" lengthAdjust="spacingAndGlyphs" stroke="#000" stroke-width="0.6">m</tspan><tspan class="si" font-size="66.38" x="555.88" y="856.25" textLength="47.73" lengthAdjust="spacingAndGlyphs" stroke="#000" stroke-width="0.6">O</tspan><tspan class="si" font-size="63.3" x="603.59" y="834.12" textLength="22.8" lengthAdjust="spacingAndGlyphs" stroke="#000" stroke-width="0.6">(</tspan><tspan class="si" font-size="63.69" x="621.78" y="833.8" textLength="37.53" lengthAdjust="spacingAndGlyphs" stroke="#000" stroke-width="0.6">T</tspan><tspan class="si" font-size="63.3" x="654.44" y="834.12" textLength="22.43" lengthAdjust="spacingAndGlyphs" stroke="#000" stroke-width="0.6">)</tspan></text>
<text><tspan class="si" font-size="60.7" x="508.6" y="937.4" textLength="47.14" lengthAdjust="spacingAndGlyphs" stroke="#000" stroke-width="0.6">m</tspan><tspan class="si" font-size="64.91" x="554.55" y="959.6" textLength="43.25" lengthAdjust="spacingAndGlyphs" stroke="#000" stroke-width="0.6">P</tspan><tspan class="si" font-size="61.04" x="594.16" y="960.13" textLength="30.27" lengthAdjust="spacingAndGlyphs" stroke="#000" stroke-width="0.6">e</tspan><tspan class="si" font-size="63.3" x="624.45" y="937.12" textLength="23.18" lengthAdjust="spacingAndGlyphs" stroke="#000" stroke-width="0.6">(</tspan><tspan class="si" font-size="63.53" x="643.77" y="936.7" textLength="37.63" lengthAdjust="spacingAndGlyphs" stroke="#000" stroke-width="0.6">T</tspan><tspan class="si" font-size="63.3" x="676.3" y="937.12" textLength="22.48" lengthAdjust="spacingAndGlyphs" stroke="#000" stroke-width="0.6">)</tspan></text>
<text><tspan class="si" font-size="60.7" x="508.6" y="1041.3" textLength="47.14" lengthAdjust="spacingAndGlyphs" stroke="#000" stroke-width="0.6">m</tspan><tspan class="sr" font-size="64.75" x="555.45" y="1062.7" textLength="35.78" lengthAdjust="spacingAndGlyphs" stroke="#000" stroke-width="0.6">F</tspan><tspan class="sr" font-size="64.04" x="590.24" y="1063.17" textLength="30.22" lengthAdjust="spacingAndGlyphs" stroke="#000" stroke-width="0.6">e</tspan><tspan class="si" font-size="63.63" x="621.31" y="1041.25" textLength="23.22" lengthAdjust="spacingAndGlyphs" stroke="#000" stroke-width="0.6">(</tspan><tspan class="si" font-size="63.07" x="640.66" y="1040.6" textLength="37.73" lengthAdjust="spacingAndGlyphs" stroke="#000" stroke-width="0.6">T</tspan><tspan class="si" font-size="63.63" x="672.42" y="1041.25" textLength="22.67" lengthAdjust="spacingAndGlyphs" stroke="#000" stroke-width="0.6">)</tspan></text>
<text><tspan class="ss" font-size="62.62" x="510.06" y="1150.51" textLength="36.76" lengthAdjust="spacingAndGlyphs" stroke="#000" stroke-width="0.6">&lt;</tspan><tspan class="dj" font-size="55.9" x="547.16" y="1153.97" textLength="41.44" lengthAdjust="spacingAndGlyphs" stroke="#000" stroke-width="1">μ</tspan><tspan class="si" font-size="64.6" x="581.48" y="1174.6" textLength="43.11" lengthAdjust="spacingAndGlyphs" stroke="#000" stroke-width="0.6">P</tspan><tspan class="si" font-size="60.92" x="621" y="1174.51" textLength="30.29" lengthAdjust="spacingAndGlyphs" stroke="#000" stroke-width="0.6">e</tspan><tspan class="sn" font-size="65.09" x="652.47" y="1152.32" textLength="19.41" lengthAdjust="spacingAndGlyphs" stroke="#000" stroke-width="0.6">(</tspan><tspan class="si" font-size="63.29" x="670.8" y="1151.7" textLength="37.93" lengthAdjust="spacingAndGlyphs" stroke="#000" stroke-width="0.6">T</tspan><tspan class="sn" font-size="65.09" x="708.82" y="1152.32" textLength="19.44" lengthAdjust="spacingAndGlyphs" stroke="#000" stroke-width="0.6">)</tspan><tspan class="ss" font-size="62.62" x="730.05" y="1150.51" textLength="36.85" lengthAdjust="spacingAndGlyphs" stroke="#000" stroke-width="0.6">&gt;</tspan></text>
</g>
</svg></body></html>
